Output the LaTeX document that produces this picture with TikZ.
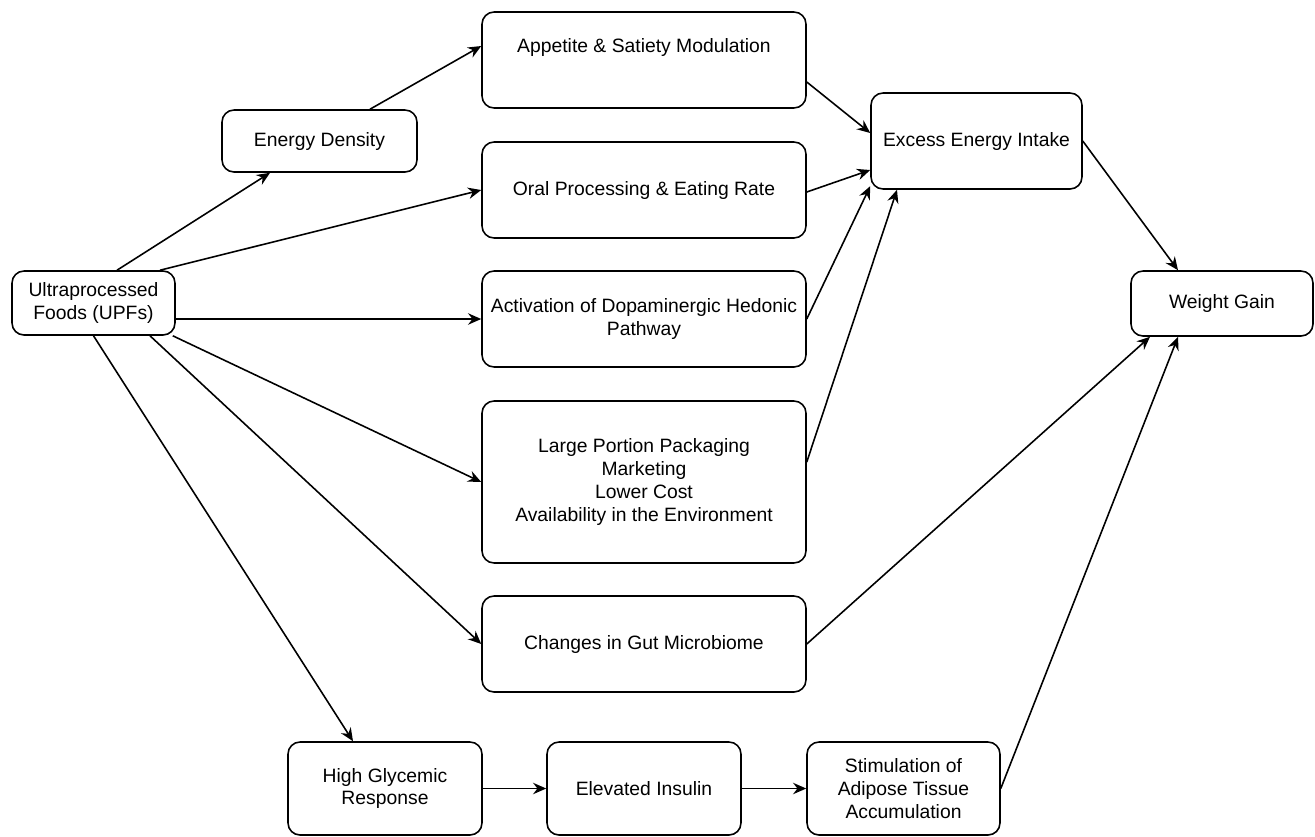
\documentclass[tikz,border=0pt]{standalone}
\usepackage{fontspec}
\setmainfont{Liberation Sans}
\usepackage{tikz}
\usetikzlibrary{positioning,calc}
\usetikzlibrary{arrows.meta}
\tikzset{arc/.style={->,>={Stealth[length=7.5pt,width=6.5pt,inset=2.5pt]}, line width=0.9pt},
         box/.style={rectangle,draw,rounded corners=0.24cm,line width=0.9pt,align=center,
                     font=\fontsize{11}{13}\selectfont,inner sep=2pt}
}

\begin{document}
\begin{tikzpicture}[x=0.02cm,y=-0.02cm]
       \useasboundingbox (0,0) rectangle (1315,836);
       \node[box, minimum width=3.26cm, minimum height=1.28cm] (upf) at (93.5,303) {Ultraprocessed\\Foods (UPFs)};
       \node[box, minimum width=3.9cm, minimum height=1.24cm] (ed) at (319.5,141) {Energy Density};
       \node[box, minimum width=6.48cm, minimum height=1.92cm, text depth=17pt] (app) at (644,60) {Appetite \& Satiety Modulation};
       \node[box, minimum width=6.48cm, minimum height=1.92cm] (oral) at (644,190) {Oral Processing \& Eating Rate};
       \node[box, minimum width=6.48cm, minimum height=1.92cm] (act) at (644,319) {Activation of Dopaminergic Hedonic\\Pathway};
       \node[box, minimum width=6.48cm, minimum height=3.24cm] (big) at (644,482) {Large Portion Packaging\\Marketing\\Lower Cost\\Availability in the Environment};
       \node[box, minimum width=6.48cm, minimum height=1.92cm] (gut) at (644,644) {Changes in Gut Microbiome};
       \node[box, minimum width=4.22cm, minimum height=1.92cm] (exc) at (976.5,141) {Excess Energy Intake};
       \node[box, minimum width=3.64cm, minimum height=1.3cm] (wg) at (1222,303.5) {Weight Gain};
       \node[box, minimum width=3.88cm, minimum height=1.86cm] (hg) at (385,788.5) {High Glycemic\\Response};
       \node[box, minimum width=3.88cm, minimum height=1.86cm] (ei) at (644,788.5) {Elevated Insulin};
       \node[box, minimum width=3.86cm, minimum height=1.86cm] (stim) at (903.5,788.5) {Stimulation of\\Adipose Tissue\\Accumulation};
       % from UPFs
       \draw[arc] ([xshift=0.47cm]upf.north) -- ([xshift=-0.99cm]ed.south);
       \draw[arc] ([xshift=1.01cm]ed.north) -- ([yshift=0.28cm]app.west);
       \draw[arc] ([xshift=1.33cm]upf.north) -- (oral.west);
       \draw[arc] (upf.east |- act.west) -- (act.west);
       \draw[arc] ([xshift=-0.06cm]upf.south east) -- (big.west);
       \draw[arc] ([xshift=1.13cm]upf.south) -- (gut.west);
       \draw[arc] (upf.south) -- ([xshift=-0.64cm]hg.north);
       % into excess intake
       \draw[arc] ([yshift=-0.44cm]app.east) -- ([yshift=0.16cm]exc.west);
       \draw[arc] ([yshift=-0.04cm]oral.east) -- ([yshift=-0.58cm]exc.west);
       \draw[arc] (act.east) -- (exc.203);
       \draw[arc] ([yshift=0.4cm]big.east) -- ([xshift=-1.59cm]exc.south);
       % into weight gain
       \draw[arc] (exc.east) -- ([xshift=-0.88cm]wg.north);
       \draw[arc] (gut.east) -- ([xshift=-1.44cm]wg.south);
       \draw[arc] (stim.east) -- ([xshift=-0.88cm]wg.south);
       \draw[arc] (hg) -- (ei);
       \draw[arc] (ei) -- (stim);
\end{tikzpicture}
\end{document}
